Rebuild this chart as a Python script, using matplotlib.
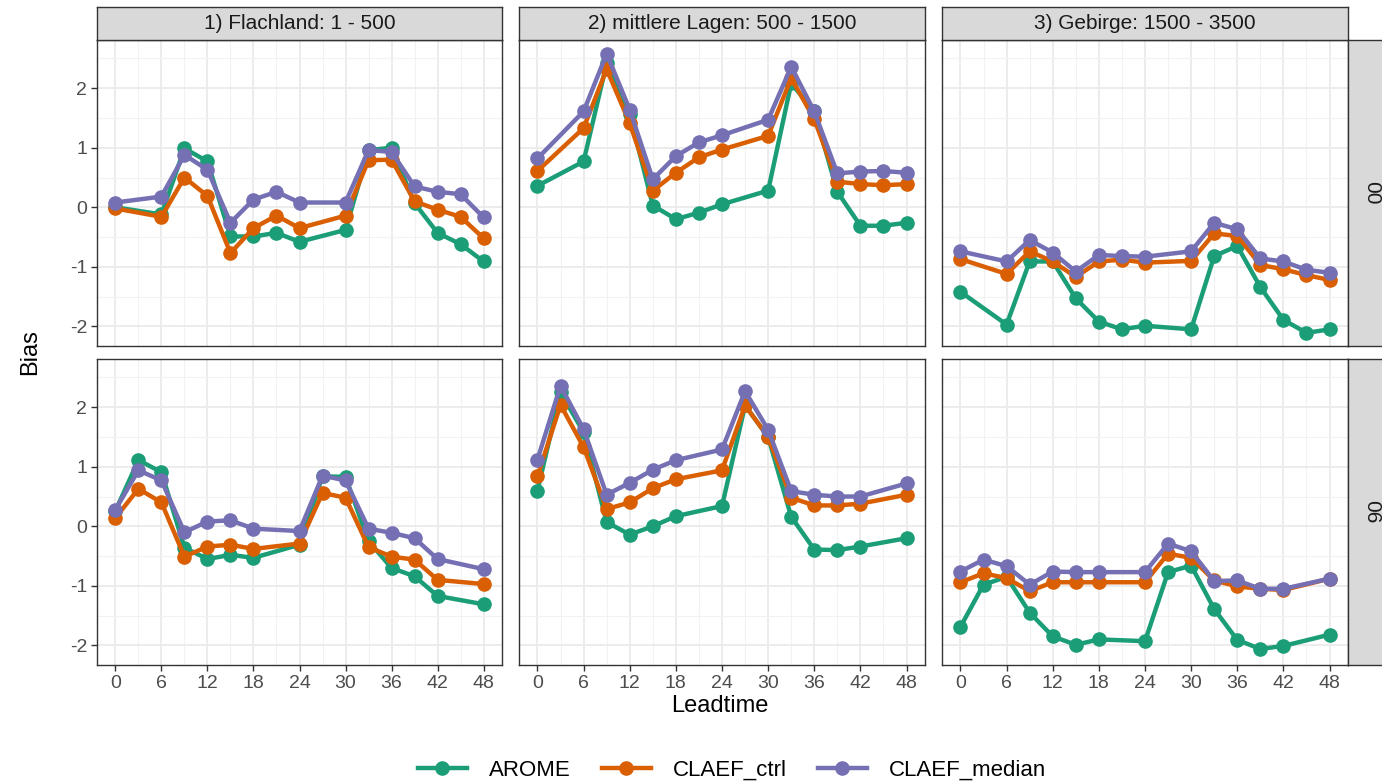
import matplotlib
matplotlib.use('Agg')
import matplotlib.pyplot as plt
from matplotlib.lines import Line2D

matplotlib.rcParams['font.family'] = ['Liberation Sans', 'DejaVu Sans']
matplotlib.rcParams['axes.linewidth'] = 1.0
matplotlib.rcParams['axes.unicode_minus'] = False

# leadtimes per run (hours)
lead_00 = [0, 6, 9, 12, 15, 18, 21, 24, 30, 33, 36, 39, 42, 45, 48]
lead_06 = [0, 3, 6, 9, 12, 15, 18, 24, 27, 30, 33, 36, 39, 42, 48]

regions = ['1) Flachland: 1 - 500', '2) mittlere Lagen: 500 - 1500', '3) Gebirge: 1500 - 3500']
runs = ['00', '06']
models = ['AROME', 'CLAEF_ctrl', 'CLAEF_median']
colors = ['#1B9E77', '#D95F02', '#7570B3']

# run 00
arome_flach_00 = [0.0, -0.12, 0.99, 0.77, -0.49, -0.49, -0.43, -0.58, -0.38, 0.96, 1.0, 0.07, -0.43, -0.62, -0.91]
ctrl_flach_00 = [-0.02, -0.16, 0.5, 0.19, -0.77, -0.35, -0.14, -0.35, -0.14, 0.79, 0.8, 0.1, -0.04, -0.16, -0.52]
median_flach_00 = [0.08, 0.18, 0.88, 0.63, -0.26, 0.13, 0.26, 0.08, 0.08, 0.96, 0.93, 0.35, 0.26, 0.22, -0.17]

arome_mittel_00 = [0.36, 0.77, 2.42, 1.57, 0.03, -0.2, -0.09, 0.05, 0.28, 2.08, 1.62, 0.26, -0.31, -0.31, -0.26]
ctrl_mittel_00 = [0.61, 1.33, 2.32, 1.41, 0.28, 0.58, 0.84, 0.97, 1.2, 2.17, 1.48, 0.43, 0.39, 0.37, 0.39]
median_mittel_00 = [0.82, 1.61, 2.58, 1.64, 0.47, 0.86, 1.09, 1.21, 1.47, 2.36, 1.61, 0.57, 0.6, 0.61, 0.58]

arome_geb_00 = [-1.42, -1.97, -0.91, -0.91, -1.53, -1.92, -2.05, -1.99, -2.05, -0.82, -0.65, -1.34, -1.89, -2.11, -2.05]
ctrl_geb_00 = [-0.87, -1.12, -0.74, -0.91, -1.17, -0.91, -0.88, -0.93, -0.9, -0.44, -0.48, -0.97, -1.04, -1.14, -1.22]
median_geb_00 = [-0.74, -0.91, -0.55, -0.76, -1.08, -0.8, -0.82, -0.83, -0.74, -0.26, -0.37, -0.86, -0.91, -1.05, -1.1]

# run 06
arome_flach_06 = [0.26, 1.11, 0.91, -0.36, -0.55, -0.48, -0.53, -0.31, 0.84, 0.83, -0.25, -0.7, -0.84, -1.17, -1.31]
ctrl_flach_06 = [0.14, 0.63, 0.4, -0.51, -0.34, -0.31, -0.38, -0.29, 0.56, 0.48, -0.35, -0.51, -0.56, -0.9, -0.97]
median_flach_06 = [0.28, 0.94, 0.77, -0.1, 0.08, 0.1, -0.04, -0.08, 0.85, 0.77, -0.04, -0.11, -0.2, -0.55, -0.72]

arome_mittel_06 = [0.6, 2.25, 1.58, 0.07, -0.14, 0.0, 0.17, 0.34, 2.03, 1.5, 0.16, -0.39, -0.4, -0.34, -0.2]
ctrl_mittel_06 = [0.84, 2.04, 1.33, 0.29, 0.4, 0.64, 0.79, 0.94, 2.03, 1.5, 0.48, 0.35, 0.35, 0.38, 0.53]
median_mittel_06 = [1.12, 2.36, 1.63, 0.53, 0.73, 0.95, 1.11, 1.29, 2.27, 1.62, 0.59, 0.53, 0.5, 0.5, 0.72]

arome_geb_06 = [-1.69, -0.98, -0.85, -1.45, -1.85, -1.99, -1.9, -1.93, -0.77, -0.66, -1.39, -1.91, -2.06, -2.01, -1.82]
ctrl_geb_06 = [-0.94, -0.79, -0.87, -1.09, -0.94, -0.94, -0.94, -0.94, -0.46, -0.53, -0.91, -1.01, -1.05, -1.07, -0.88]
median_geb_06 = [-0.76, -0.56, -0.67, -0.98, -0.76, -0.77, -0.77, -0.77, -0.29, -0.42, -0.92, -0.91, -1.05, -1.05, -0.88]

panels = {
    ('00', 0): (lead_00, [arome_flach_00, ctrl_flach_00, median_flach_00]),
    ('00', 1): (lead_00, [arome_mittel_00, ctrl_mittel_00, median_mittel_00]),
    ('00', 2): (lead_00, [arome_geb_00, ctrl_geb_00, median_geb_00]),
    ('06', 0): (lead_06, [arome_flach_06, ctrl_flach_06, median_flach_06]),
    ('06', 1): (lead_06, [arome_mittel_06, ctrl_mittel_06, median_mittel_06]),
    ('06', 2): (lead_06, [arome_geb_06, ctrl_geb_06, median_geb_06]),
}

W, H = 1382, 783
fig = plt.figure(figsize=(W / 100, H / 100), dpi=100)


def px_axes(x0, y0, x1, y1):
    return fig.add_axes([x0 / W, 1 - y1 / H, (x1 - x0) / W, (y1 - y0) / H])


cols = [(97, 502), (519, 925), (942, 1348)]
rows = [(40, 346), (359, 665)]
border = '#333333'

for r, run in enumerate(runs):
    for c in range(3):
        x0, x1 = cols[c]
        y0, y1 = rows[r]
        ax = px_axes(x0, y0, x1, y1)
        lead, series = panels[(run, c)]
        for vals, col in zip(series, colors):
            ax.plot(lead, vals, color=col, lw=3.2, marker='o', ms=9.5, zorder=3)
        ax.set_xlim(-2.4, 50.4)
        ax.set_ylim(-2.33, 2.81)
        ax.set_xticks(range(0, 49, 6))
        ax.set_xticks(range(3, 48, 6), minor=True)
        ax.set_yticks([-2, -1, 0, 1, 2])
        ax.set_yticks([-1.5, -0.5, 0.5, 1.5, 2.5], minor=True)
        ax.grid(which='major', color='#EBEBEB', lw=1.3, zorder=0)
        ax.grid(which='minor', color='#F2F2F2', lw=0.8, zorder=0)
        ax.set_axisbelow(True)
        ax.tick_params(which='minor', length=0)
        ax.tick_params(which='major', length=4, width=1, color=border,
                       labelcolor='#4D4D4D', labelsize=14, pad=3)
        for s in ax.spines.values():
            s.set_color(border)
        if c > 0:
            ax.tick_params(labelleft=False, left=False)
        if r == 0:
            ax.tick_params(labelbottom=False, bottom=False)
        # top strips
        if r == 0:
            st = px_axes(x0, 7, x1, 40)
            st.set_facecolor('#D9D9D9')
            st.set_xticks([])
            st.set_yticks([])
            for s in st.spines.values():
                s.set_color(border)
            st.text(0.5, 0.5, regions[c], ha='center', va='center',
                    fontsize=15, color='#1A1A1A')
        # right strips
        if c == 2:
            rs = px_axes(1348, y0, 1400, y1)
            rs.set_facecolor('#D9D9D9')
            rs.set_xticks([])
            rs.set_yticks([])
            for s in rs.spines.values():
                s.set_color(border)
            fig.text(1372 / W, 1 - (y0 + y1) / 2 / H, run, rotation=-90,
                     ha='center', va='center', fontsize=15, color='#1A1A1A')

fig.text(720 / W, 1 - 706 / H, 'Leadtime', ha='center', va='center', fontsize=17)
fig.text(30 / W, 1 - 352 / H, 'Bias', ha='center', va='center', rotation=90, fontsize=17)

handles = [Line2D([0], [0], color=col, lw=3.2, marker='o', ms=9.5) for col in colors]
fig.legend(handles, models, loc='center', bbox_to_anchor=(732 / W, 1 - 770 / H),
           ncol=3, frameon=False, fontsize=16, handlelength=2.2, columnspacing=1.4,
           handletextpad=1.0)

fig.savefig('out.png', dpi=100)
